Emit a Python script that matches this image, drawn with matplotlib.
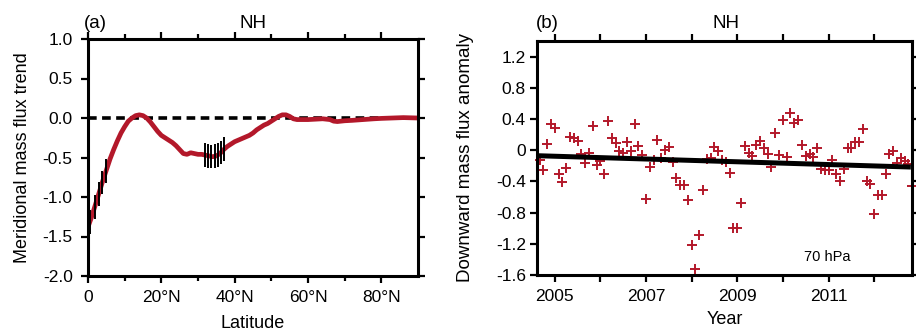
import numpy as np
import matplotlib.pyplot as plt

plt.rcParams['font.family'] = ['Liberation Sans', 'DejaVu Sans']
plt.rcParams['axes.unicode_minus'] = False

# (a) meridional mass flux trend against latitude
lat = [0, 1, 2, 3, 4, 5, 6, 7, 8, 9, 10, 11, 12, 13, 14, 15, 16, 17, 18, 19,
       20, 21, 22, 23, 24, 25, 26, 27, 28, 29, 30, 31, 32, 33, 34, 35, 36, 37,
       38, 39, 40, 41, 42, 43, 44, 45, 46, 47, 48, 49, 50, 51, 52, 53, 54, 55,
       56, 57, 58, 60, 62, 64, 66, 67, 68, 70, 72, 75, 78, 80, 83, 86, 90]
flux_trend = [-1.38, -1.25, -1.10, -0.95, -0.80, -0.66, -0.52, -0.40, -0.29,
              -0.19, -0.11, -0.04, 0.00, 0.03, 0.04, 0.03, 0.00, -0.05, -0.11,
              -0.17, -0.22, -0.25, -0.28, -0.31, -0.35, -0.40, -0.45, -0.46,
              -0.44, -0.45, -0.46, -0.46, -0.47, -0.48, -0.49, -0.48, -0.45,
              -0.40, -0.36, -0.33, -0.30, -0.28, -0.26, -0.24, -0.22, -0.19,
              -0.15, -0.12, -0.09, -0.07, -0.04, -0.01, 0.02, 0.04, 0.04, 0.02,
              -0.01, -0.02, -0.02, -0.02, -0.015, -0.01, -0.02, -0.04, -0.045,
              -0.035, -0.03, -0.02, -0.01, -0.005, 0.0, 0.005, 0.0]
# latitudes where the trend is significant
sig_lat = [0.5, 1.8, 2.9, 3.9, 4.9, 31.8, 32.7, 33.6, 34.5, 35.4, 36.3, 37.1]
lat_ticks = [0, 20, 40, 60, 80]
lat_labels = ['0', '20°N', '40°N', '60°N', '80°N']
trend_ticks = [-2.0, -1.5, -1.0, -0.5, 0.0, 0.5, 1.0]

# (b) monthly downward mass flux anomaly at 70 hPa, from Sep 2004
start_year = 2004 + 8 / 12
anomaly = [-0.13, -0.26, 0.08, 0.33, 0.29, -0.30, -0.41, -0.23, 0.17, 0.16,
           0.12, -0.05, -0.17, -0.03, 0.31, -0.19, -0.14, -0.31, 0.37, 0.16,
           0.09, -0.01, -0.04, 0.11, -0.01, 0.34, 0.05, -0.06, -0.63, -0.21,
           -0.12, 0.13, -0.10, 0.00, 0.04, -0.15, -0.35, -0.45, -0.44, -0.64,
           -1.22, -1.52, -1.09, -0.51, -0.11, -0.10, 0.04, -0.01, -0.13, -0.15,
           -0.29, -1.00, -1.00, -0.68, 0.05, -0.04, -0.08, 0.07, 0.12, 0.03,
           -0.05, -0.21, 0.22, -0.06, 0.39, -0.09, 0.48, 0.35, 0.39, 0.07,
           -0.08, -0.05, -0.09, 0.03, -0.24, -0.26, -0.26, -0.13, -0.31, -0.39,
           -0.24, 0.03, 0.03, 0.10, 0.10, 0.27, -0.39, -0.43, -0.82, -0.57,
           -0.57, -0.31, -0.05, -0.01, -0.16, -0.10, -0.14, -0.18, -0.46]
trend_years = [2004.58, 2012.75]
trend_fit = [-0.07, -0.215]
year_ticks = [2005, 2007, 2009, 2011]
year_minor = [2006, 2008, 2010, 2012]
anom_ticks = [-1.6, -1.2, -0.8, -0.4, 0.0, 0.4, 0.8, 1.2]
anom_labels = ['-1.6', '-1.2', '-0.8', '-0.4', '0', '0.4', '0.8', '1.2']

red = '#b3182a'
W, H = 916, 331
fig = plt.figure(figsize=(W / 100, H / 100), dpi=100)
ax1 = fig.add_axes([88 / W, 1 - 276 / H, 330 / W, 237 / H])
ax2 = fig.add_axes([537 / W, 1 - 275 / H, 375 / W, 234 / H])


def style(ax):
    for s in ax.spines.values():
        s.set_linewidth(2.2)
    ax.tick_params(which='both', direction='out', top=True, right=True,
                   width=1.6, labelsize=12.5, pad=5)
    ax.tick_params(which='major', length=5)
    ax.tick_params(which='minor', length=3.5)


# panel (a)
ax1.axhline(0, color='k', lw=2.6, ls=(0, (2.4, 1.5)))
ax1.plot(lat, flux_trend, color=red, lw=3.4, solid_capstyle='round')
centers = np.interp(sig_lat, lat, flux_trend)
ax1.vlines(sig_lat, centers - 0.15, centers + 0.15, color='k', lw=1.4)
ax1.set_xlim(0, 90)
ax1.set_ylim(-2, 1)
ax1.set_xticks(lat_ticks, lat_labels)
ax1.set_xticks([10, 30, 50, 70], minor=True)
ax1.set_yticks(trend_ticks, [f'{v:.1f}' for v in trend_ticks])
style(ax1)
ax1.tick_params(axis='y', pad=6)
ax1.set_xlabel('Latitude', fontsize=13)
ax1.set_ylabel('Meridional mass flux trend', fontsize=13)
ax1.xaxis.set_label_coords(0.5, (276 - 323) / 237)
ax1.yaxis.set_label_coords((23 - 88) / 330, 0.5)

# panel (b)
years = start_year + np.arange(len(anomaly)) / 12
ax2.plot(years, anomaly, '+', color=red, ms=7.5, mew=1.4, clip_on=False)
ax2.plot(trend_years, trend_fit, color='k', lw=3.6)
ax2.set_xlim(2004.61, 2012.83)
ax2.set_ylim(-1.6, 1.4)
ax2.set_xticks(year_ticks, [str(y) for y in year_ticks])
ax2.set_xticks(year_minor, minor=True)
ax2.set_yticks(anom_ticks, anom_labels)
style(ax2)
ax2.tick_params(which='minor', length=5)
ax2.tick_params(axis='y', pad=3)
ax2.set_xlabel('Year', fontsize=13)
ax2.set_ylabel('Downward mass flux anomaly', fontsize=13.5)
ax2.xaxis.set_label_coords(0.5, (275 - 320) / 234)
ax2.yaxis.set_label_coords((465 - 537) / 375, 0.5)
ax2.text(827.7 / W, 1 - 256.7 / H, '70 hPa', transform=fig.transFigure,
         fontsize=10.5, ha='center', va='center')

for ax in (ax1, ax2):
    ax.xaxis.label.set_va('center')
    ax.yaxis.label.set_va('center')

fig.text(95 / W, 1 - 23 / H, '(a)', fontsize=13.5, ha='center', va='center')
fig.text(253 / W, 1 - 23 / H, 'NH', fontsize=13.5, ha='center', va='center')
fig.text(547 / W, 1 - 23 / H, '(b)', fontsize=13.5, ha='center', va='center')
fig.text(726 / W, 1 - 23 / H, 'NH', fontsize=13.5, ha='center', va='center')

fig.savefig('out.png', dpi=100)
